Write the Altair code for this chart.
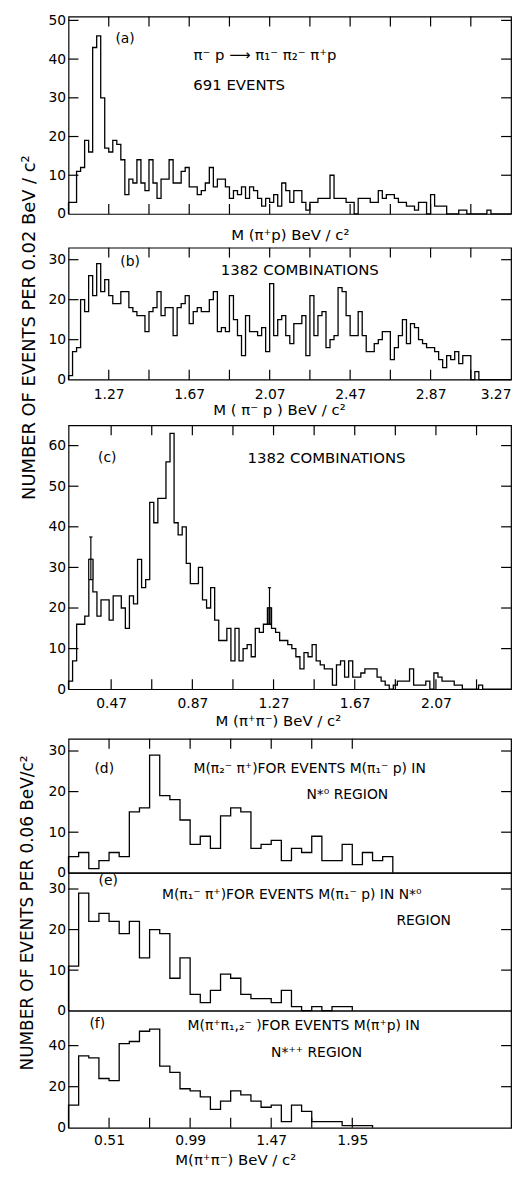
import altair as alt
import pandas as pd

FONT = "DejaVu Sans"
W = 446

# ---------------- data (counts per bin) ----------------
# (a) M(pi+ p), 0.02 BeV bins starting at 1.07
a_counts = [3, 3, 11, 12, 19, 16, 43, 46, 30, 17, 16, 19, 18, 14, 5, 9, 8, 14, 8, 6,
            14, 8, 4, 9, 9, 14, 8, 8, 11, 12, 7, 7, 5, 6, 8, 12, 7, 9, 9, 7,
            4, 6, 5, 7, 4, 7, 6, 4, 2, 4, 3, 5, 2, 8, 6, 3, 6,
            6, 3, 1, 3, 3, 4, 4, 4, 10, 4, 4, 4, 3, 3, 0, 4, 4, 4, 3, 3,
            6, 4, 5, 5, 4, 3, 3, 2, 2, 1, 3, 3, 0, 5, 2, 2, 2, 0, 0, 0,
            1, 1, 0, 0, 0, 0, 0, 1, 0, 0, 0, 0, 0]
# (b) M(pi- p), 0.02 BeV bins starting at 1.07
b_counts = [1, 7, 8, 20, 17, 26, 21, 29, 22, 25,
            21, 19, 19, 22, 22, 18, 17, 16, 16, 12,
            17, 18, 22, 16, 18, 18, 11, 18, 19, 21,
            14, 17, 18, 17, 17, 20, 22, 12, 13, 12,
            21, 15, 11, 6, 16, 12, 12, 11, 13, 7,
            24, 11, 15, 16, 11, 9, 14, 14, 16, 6,
            21, 11, 16, 17, 8, 10, 11, 23, 22, 16,
            11, 11, 17, 11, 7, 7, 9, 10, 12, 12,
            5, 8, 11, 15, 9, 14, 13, 10, 9, 8,
            8, 7, 5, 3, 6, 5, 7, 4, 6, 6,
            0, 2, 0, 0, 0, 0, 0, 0, 0, 0]
# (c) M(pi+ pi-), 0.02 BeV bins starting at 0.26
c_counts = [2, 7, 16, 16, 18, 32, 24, 18, 22, 22,
            17, 23, 23, 20, 15, 23, 21, 32, 25, 27,
            46, 41, 47, 47, 56, 63, 41, 38, 40, 31,
            26, 26, 30, 22, 20, 25, 17, 12, 12, 15,
            7, 15, 7, 10, 11, 8, 15, 14, 16, 20,
            15, 14,
            12, 12, 11, 10, 8, 5, 9, 8, 11, 7,
            6, 5, 5, 1, 6, 7, 3, 7, 3, 3,
            4, 5, 5, 5, 3, 2, 1, 0, 1, 2,
            2, 2, 5, 1, 1, 1, 2, 0, 4, 3,
            2, 2, 2, 1, 1, 0, 0, 0, 0, 1,
            0, 0, 0, 0, 0, 0, 0]
c_err_bin = [5, 49]
c_err_lo = [27, 16]
c_err_hi = [37.5, 25]
# (d), (e), (f): 0.06 BeV bins starting at 0.27
d_counts = [4, 5, 1, 3, 5, 4, 15, 16, 29, 19, 18, 13, 7, 9, 6, 14, 16, 15, 6, 7,
            8, 3, 6, 5, 9, 3, 3, 7, 2, 5, 3, 4]
e_counts = [11, 29, 22, 24, 22, 19, 22, 13, 20, 19, 8, 13, 4, 2, 5, 9, 8, 4, 3, 3,
            2, 5, 1, 0, 1, 0, 1, 1]
f_counts = [11, 35, 34, 24, 23, 41, 42, 47, 48, 30, 27, 19, 18, 15, 9, 13, 18, 16, 13, 10,
            11, 3, 11, 8, 3, 3, 3, 1, 1, 1]

# tick values and labels
ab_ticks = [1.27, 1.47, 1.67, 1.87, 2.07, 2.27, 2.47, 2.67, 2.87, 3.07]
b_labels = [1.27, 1.67, 2.07, 2.47, 2.87, 3.27]
c_ticks = [0.47, 0.67, 0.87, 1.07, 1.27, 1.47, 1.67, 1.87, 2.07, 2.27]
c_labels = [0.47, 0.87, 1.27, 1.67, 2.07]
def_ticks = [0.51, 0.75, 0.99, 1.23, 1.47, 1.71, 1.95]
f_labels = [0.51, 0.99, 1.47, 1.95]
a_y = [10, 20, 30, 40, 50]
b_y = [10, 20, 30]
c_y = [10, 20, 30, 40, 50, 60]
d_y = [10, 20, 30]
e_y = [10, 20, 30]
f_y = [20, 40]


def steps(start, width, counts):
    n = len(counts)
    xs = [start] + [start + k * width for k in range(n)] + [start + n * width]
    ys = [0] + list(counts) + [0]
    return pd.DataFrame({"x": xs, "y": ys, "k": list(range(n + 2))})


def tick_layers(H, sc_x, sc_y, yt, xt_top, xt_bot, L=10):
    out = []
    rule = dict(color="black", strokeWidth=1.2)
    if yt:
        df = pd.DataFrame({"v": yt})
        out.append(alt.Chart(df).mark_rule(**rule).encode(
            y=alt.Y("v:Q", scale=sc_y, axis=None), x=alt.value(0), x2=alt.value(L)))
        out.append(alt.Chart(df).mark_rule(**rule).encode(
            y=alt.Y("v:Q", scale=sc_y, axis=None), x=alt.value(W - L), x2=alt.value(W)))
    if xt_top:
        df = pd.DataFrame({"v": xt_top})
        out.append(alt.Chart(df).mark_rule(**rule).encode(
            x=alt.X("v:Q", scale=sc_x, axis=None), y=alt.value(0), y2=alt.value(L)))
    if xt_bot:
        df = pd.DataFrame({"v": xt_bot})
        out.append(alt.Chart(df).mark_rule(**rule).encode(
            x=alt.X("v:Q", scale=sc_x, axis=None), y=alt.value(H - L), y2=alt.value(H)))
    return out


def note(text, px, py, size=14):
    return alt.Chart(pd.DataFrame({"t": [text]})).mark_text(
        font=FONT, fontSize=size, color="black", align="center", baseline="middle"
    ).encode(x=alt.value(px), y=alt.value(py), text="t:N")


def panel(counts, start, width, xdom, ydom, H, yvals, xaxis, yaxis,
          xt_top, xt_bot, notes, extra_fn=None):
    sc_x = alt.Scale(domain=xdom, nice=False, zero=False)
    sc_y = alt.Scale(domain=ydom, nice=False, zero=False)
    line = alt.Chart(steps(start, width, counts)).mark_line(
        interpolate="step-after", color="black", strokeWidth=1.3
    ).encode(
        x=alt.X("x:Q", scale=sc_x, axis=xaxis),
        y=alt.Y("y:Q", scale=sc_y, axis=yaxis),
        order="k:Q",
    )
    layers = [line] + tick_layers(H, sc_x, sc_y, yvals, xt_top, xt_bot)
    if extra_fn is not None:
        layers += extra_fn(sc_x, sc_y)
    layers += [note(*n) for n in notes]
    return alt.layer(*layers).resolve_axis(x="independent", y="independent").properties(
        width=W, height=H)


def yax(vals, **kw):
    return alt.Axis(values=[0] + vals, ticks=False, domain=False, grid=False,
                    labelPadding=3, format="d", **kw)


def xax(vals=None, title=None, titleX=223, titleY=20, labelPadding=8, flush=False):
    kw = dict(ticks=False, domain=False, grid=False, title=title,
              titleX=titleX, titleY=titleY, titleBaseline="middle")
    if vals:
        kw.update(values=vals, labelPadding=labelPadding, labelFlush=flush,
                  labelOverlap=False, format=".2f")
    else:
        kw.update(labels=False)
    return alt.Axis(**kw)


# ---------------- panels ----------------
pa = panel(a_counts, 1.07, 0.02, [1.07, 3.27], [0, 51], 199, a_y,
           xax(None, "M (π⁺p)  BeV / c²", 223, 21), yax(a_y, title=None),
           ab_ticks, ab_ticks,
           [("(a)", 57, 23), ("π⁻ p ⟶ π₁⁻  π₂⁻  π⁺p", 198, 39, 15), ("691  EVENTS", 172, 69, 15)])

pb = panel(b_counts, 1.07, 0.02, [1.07, 3.27], [0, 33], 133, b_y,
           xax(b_labels, "M ( π⁻ p )  BeV / c²", 212, 30, 8, True),
           yax(b_y, title="NUMBER  OF  EVENTS  PER  0.02  BeV / c²", titleAngle=270,
               titleX=-39, titleY=80, titleAlign="center", titleBaseline="middle",
               titleFontSize=18),
           ab_ticks, ab_ticks,
           [("(b)", 62, 14), ("1382  COMBINATIONS", 233, 23, 15)])


def c_extra(sc_x, sc_y):
    xc = [0.26 + (b + 0.5) * 0.02 for b in c_err_bin]
    x1 = [0.26 + b * 0.02 for b in c_err_bin]
    x2 = [0.26 + (b + 1) * 0.02 for b in c_err_bin]
    val = [c_counts[b] for b in c_err_bin]
    df = pd.DataFrame({"xc": xc, "x1": x1, "x2": x2, "lo": c_err_lo, "hi": c_err_hi,
                       "v": val, "cl": [a - 0.008 for a in xc], "cr": [a + 0.008 for a in xc],
                       "fill": ["white", "#555555"]})
    box = alt.Chart(df).mark_rect(stroke="black", strokeWidth=1).encode(
        x=alt.X("x1:Q", scale=sc_x, axis=None), x2="x2:Q",
        y=alt.Y("lo:Q", scale=sc_y, axis=None), y2="v:Q",
        fill=alt.Fill("fill:N", scale=None))
    bar = alt.Chart(df).mark_rule(color="black", strokeWidth=1.2).encode(
        x=alt.X("xc:Q", scale=sc_x, axis=None),
        y=alt.Y("lo:Q", scale=sc_y, axis=None), y2="hi:Q")
    cap_hi = alt.Chart(df).mark_rule(color="black", strokeWidth=1.2).encode(
        x=alt.X("cl:Q", scale=sc_x, axis=None), x2="cr:Q",
        y=alt.Y("hi:Q", scale=sc_y, axis=None))
    cap_lo = alt.Chart(df).mark_rule(color="black", strokeWidth=1.2).encode(
        x=alt.X("cl:Q", scale=sc_x, axis=None), x2="cr:Q",
        y=alt.Y("lo:Q", scale=sc_y, axis=None))
    return [box, bar, cap_hi, cap_lo]


pc = panel(c_counts, 0.26, 0.02, [0.26, 2.44], [0, 65], 266, c_y,
           xax(c_labels, "M (π⁺π⁻)  BeV / c²", 211, 32, 7), yax(c_y, title=None),
           c_ticks, c_ticks,
           [("(c)", 39, 33), ("1382  COMBINATIONS", 260, 33, 15)],
           extra_fn=c_extra)

pd_ = panel(d_counts, 0.27, 0.06, [0.27, 2.89], [0, 33], 135, d_y,
            xax(None, None), yax(d_y, title=None),
            def_ticks, None,
            [("(d)", 36, 30), ("M(π₂⁻ π⁺)FOR EVENTS   M(π₁⁻ p)  IN", 243, 30),
             ("N*⁰  REGION", 281, 57)])

pe = panel(e_counts, 0.27, 0.06, [0.27, 2.89], [0, 34], 139, e_y,
           xax(None, None),
           yax(e_y, title="NUMBER  OF  EVENTS  PER  0.06 BeV/c²", titleAngle=270,
               titleX=-41, titleY=40, titleAlign="center", titleBaseline="middle",
               titleFontSize=17),
           None, None,
           [("(e)", 40, 8), ("M(π₁⁻ π⁺)FOR EVENTS  M(π₁⁻ p) IN   N*⁰", 225, 22),
            ("REGION", 358, 49)])

pf = panel(f_counts, 0.27, 0.06, [0.27, 2.89], [0, 57], 118, f_y,
           xax(f_labels, "M(π⁺π⁻)  BeV / c²", 168, 32, 6), yax(f_y, title=None),
           None, def_ticks,
           [("(f)", 29, 13), ("M(π⁺π₁,₂⁻ )FOR EVENTS  M(π⁺p)  IN", 237, 15),
            ("N*⁺⁺ REGION", 250, 43)])


def spacer(h):
    return alt.Chart(pd.DataFrame({"t": [""]})).mark_text().encode(
        text="t:N", x=alt.value(0), y=alt.value(0)
    ).properties(width=W, height=h, view=alt.ViewBackground(strokeOpacity=0))


chart = alt.vconcat(
    pa, spacer(34), pb, spacer(46), pc, spacer(50), pd_, pe, pf,
    spacing=0, bounds="flush",
).properties(
    padding={"left": 10, "top": 0, "right": 2, "bottom": 0},
    background="white",
).configure_view(
    stroke="black", strokeWidth=1.2
).configure_axis(
    labelFont=FONT, titleFont=FONT, labelFontSize=14, titleFontSize=15,
    labelColor="black", titleColor="black", titleFontWeight="normal",
)

chart.save("out.html", embed_options={"renderer": "svg", "actions": False})
